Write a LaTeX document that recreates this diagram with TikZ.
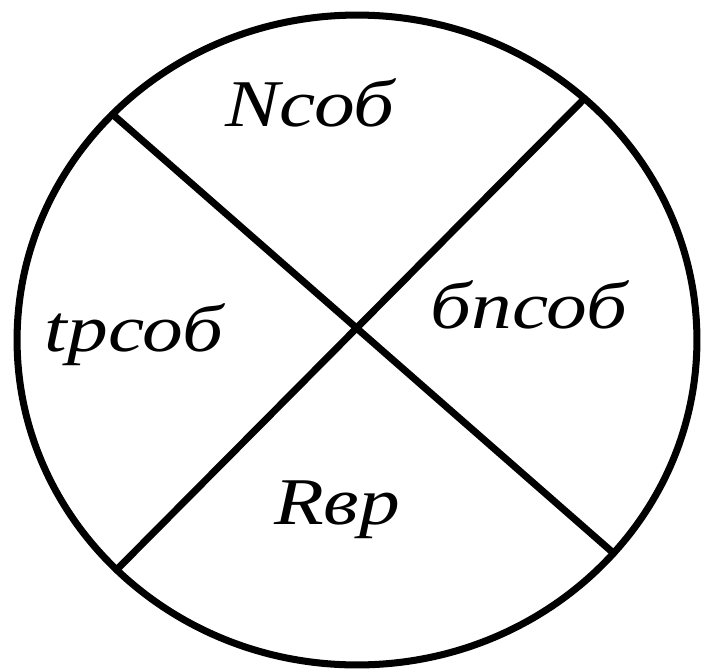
\documentclass[tikz,border=0pt]{standalone}
\usepackage{fontspec}
\setmainfont{Liberation Serif}
\usetikzlibrary{calc}

\begin{document}
\begin{tikzpicture}[x=0.02cm, y=-0.02cm,
    rim/.style={line width=4pt, line cap=round, line join=round},
    lbl/.style={font=\itshape\fontsize{38}{44}\selectfont, xscale=1.22, transform shape, inner sep=0pt}]
  \useasboundingbox (0,0) rectangle (702,669);
  \coordinate (c) at (357,340);
  % ends of the two chords on the rim
  \coordinate (tl) at ($(c)+(136:6.8cm and 6.5cm)$);
  \coordinate (tr) at ($(c)+(48:6.8cm and 6.5cm)$);
  \coordinate (br) at ($(c)+(-41:6.8cm and 6.5cm)$);
  \coordinate (bl) at ($(c)+(-135:6.8cm and 6.5cm)$);
  \draw[rim] (c) ellipse [x radius=6.8cm, y radius=6.5cm];
  \draw[rim] (tl) -- (br);
  \draw[rim] (tr) -- (bl);
  \node[lbl] (nsob) at (310,103) {Nсоб};
  \node[lbl] (trsob) at (134,335) {tрсоб};
  \node[lbl] (bpsob) at (529,305) {бпсоб};
  \node[lbl] (rvr) at (337,510) {Rвр};
\end{tikzpicture}
\end{document}
